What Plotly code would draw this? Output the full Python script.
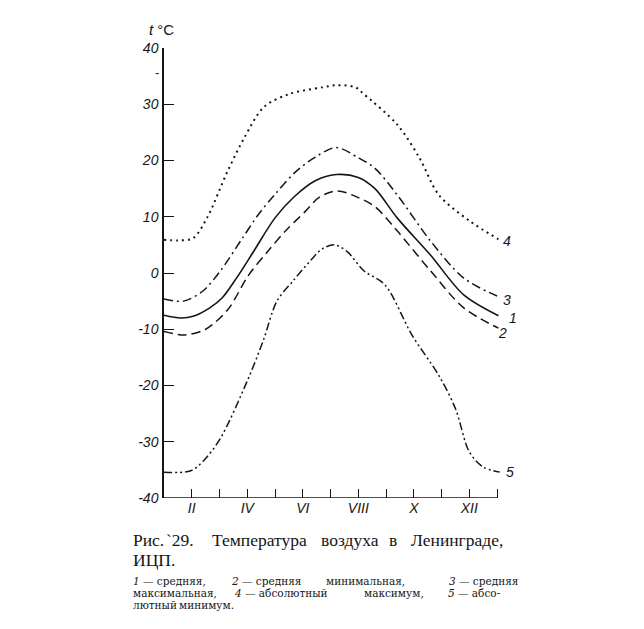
import plotly.graph_objects as go

# months: 1 = I (y axis), 13 = I of the next year
m_mean = [1, 1.6, 2.05, 2.65, 3.1, 3.6, 4.2, 5.0, 5.7, 6.45, 7.2, 8.0, 8.6, 9.4, 10.6, 11.8, 13.05]
t_mean = [-7.5, -8.0, -7.7, -6.2, -4.4, -1.0, 3.6, 9.8, 13.6, 16.4, 17.5, 17.0, 15.0, 9.8, 3.2, -3.9, -7.6]

m_min = [1, 1.75, 2.5, 3.3, 4.03, 4.75, 5.4, 6.1, 6.6, 7.25, 8.0, 8.6, 9.4, 10.6, 11.8, 13.05]
t_min = [-10.4, -11.0, -10.0, -6.5, -0.5, 3.9, 7.6, 11.0, 13.5, 14.6, 13.4, 11.8, 7.5, 0.4, -6.2, -9.8]

m_max = [1, 1.7, 2.4, 3.05, 3.8, 4.4, 5.0, 5.7, 6.45, 7.2, 8.0, 8.6, 9.4, 10.6, 11.8, 13.0]
t_max = [-4.6, -5.0, -3.2, 0.5, 6.0, 10.4, 14.0, 17.8, 20.6, 22.3, 20.5, 18.6, 13.9, 5.7, -0.9, -4.1]

m_absmax = [1, 1.5, 2.05, 2.55, 3.3, 3.9, 4.6, 5.5, 6.7, 7.25, 7.9, 8.2, 9.4, 10.2, 10.9, 12.0, 13.05]
t_absmax = [5.9, 5.8, 6.2, 9.8, 18.2, 24.1, 29.5, 31.8, 33.0, 33.4, 33.0, 31.8, 26.4, 20.5, 13.9, 9.3, 6.0]

m_absmin = [1, 1.94, 2.4, 3.02, 3.99, 4.57, 5.07, 5.65, 6.26, 6.7, 7.15, 7.6, 8.2, 8.96, 9.93, 10.9, 11.5, 12.0, 12.5, 13.1]
t_absmin = [-35.4, -35.2, -33.5, -29.5, -19.3, -12.1, -5.0, -1.4, 2.1, 4.3, 5.0, 3.8, 0.4, -2.1, -11.0, -18.2, -24.1, -31.8, -34.5, -35.4]

x_ticks = list(range(2, 14))
x_labels = ["II", "", "IV", "", "VI", "", "VIII", "", "X", "", "XII", ""]
y_ticks = list(range(-40, 41, 10))
y_labels = ["-40", "-30", "-20", "-10", "0", "10", "20", "30", "40"]

# curve number labels at the right end: (number, month, t)
end_labels = [("4", 13.36, 5.7), ("3", 13.36, -4.8), ("1", 13.58, -8.0),
              ("2", 13.2, -10.7), ("5", 13.47, -35.4)]

INK = "#151515"
OFF = 8  # page body margin
W, H = 644, 629
# plot area in page pixels
X0, X1, Y0, Y1 = 164, 504, 48, 498
XMIN, XMAX = 1, 13.25
PW, PH = X1 - X0, Y1 - Y0


def px(x, y):
    return (x - X0) / PW, (Y1 - y) / PH


fig = go.Figure()

series = [
    (m_mean, t_mean, "solid", 1.6),
    (m_min, t_min, "9px,5px", 1.5),
    (m_max, t_max, "9px,4px,2px,4px", 1.5),
    (m_absmax, t_absmax, "2px,4px", 2),
    (m_absmin, t_absmin, "8px,3px,2px,3px,2px,3px", 1.5),
]
for xs, ys, dash, w in series:
    fig.add_trace(go.Scatter(
        x=xs, y=ys, mode="lines",
        line=dict(color=INK, width=w, dash=dash, shape="spline", smoothing=0.9),
        showlegend=False, hoverinfo="skip"
    ))

# x axis line only up to month 13
fig.add_shape(type="line", x0=1, x1=13, y0=-40, y1=-40, xref="x", yref="y",
              line=dict(color=INK, width=1.5))

tickfont = dict(family="Liberation Sans, Arial", size=14, color=INK, style="italic")

fig.update_xaxes(range=[XMIN, XMAX], tickvals=x_ticks, ticktext=x_labels,
                 ticks="inside", ticklen=9, tickwidth=1.2, tickcolor=INK,
                 showgrid=False, zeroline=False, showline=False, tickfont=tickfont)
fig.update_yaxes(range=[-40, 40], tickvals=y_ticks, ticktext=y_labels,
                 ticks="inside", ticklen=10, tickwidth=1.2, tickcolor=INK,
                 showgrid=False, zeroline=False, showline=True, linecolor=INK,
                 linewidth=1.5, tickfont=tickfont, ticklabelstandoff=1)

ann = []
for num, mx, ty in end_labels:
    ann.append(dict(x=(mx - XMIN) / (XMAX - XMIN), y=(ty + 40) / 80,
                    xref="paper", yref="paper", text=num, showarrow=False,
                    xanchor="center", yanchor="middle", font=tickfont))

ax, ay = px(161, 30)
ann.append(dict(x=ax, y=ay, xref="paper", yref="paper", showarrow=False,
                xanchor="center", yanchor="middle",
                text="<i>t</i> °C", font=dict(family="Liberation Sans", size=15, color=INK)))
ax, ay = px(157, 72)
ann.append(dict(x=ax, y=ay, xref="paper", yref="paper", showarrow=False,
                xanchor="center", yanchor="middle",
                text="-", font=dict(family="Liberation Sans", size=13, color=INK)))

# caption, words placed to imitate justified text
caption_big = [
    (540, [(132, "Рис."), (165, "`29."), (211, "Температура"), (320, "воздуха"),
           (388, "в"), (410, "Ленинграде,")]),
    (560, [(132, "ИЦП.")]),
]
caption_small = [
    (581, [(132, "<i>1</i> — средняя,"), (230, "<i>2</i> — средняя"),
           (325, "минимальная,"), (448, "<i>3</i> — средняя")]),
    (593, [(132, "максимальная,"), (233, "<i>4</i> — абсолютный"),
           (363, "максимум,"), (447, "<i>5</i> — абсо-")]),
    (605, [(132, "лютный"), (178, "минимум.")]),
]
for rows, size, fam in ((caption_big, 17.5, "Liberation Serif, DejaVu Serif"),
                        (caption_small, 10.5, "DejaVu Serif, Liberation Serif")):
    for py, words in rows:
        for wx, txt in words:
            ax, ay = px(wx, py)
            ann.append(dict(x=ax, y=ay, xref="paper", yref="paper", text=txt,
                            showarrow=False, xanchor="left", yanchor="middle",
                            borderpad=0,
                            font=dict(family=fam, size=size, color=INK)))

fig.update_layout(
    width=W - OFF, height=H - OFF, autosize=False,
    margin=dict(l=X0 - OFF, r=W - X1, t=Y0 - OFF, b=H - Y1),
    paper_bgcolor="white", plot_bgcolor="white",
    annotations=ann
)

fig.write_html("out.html")
